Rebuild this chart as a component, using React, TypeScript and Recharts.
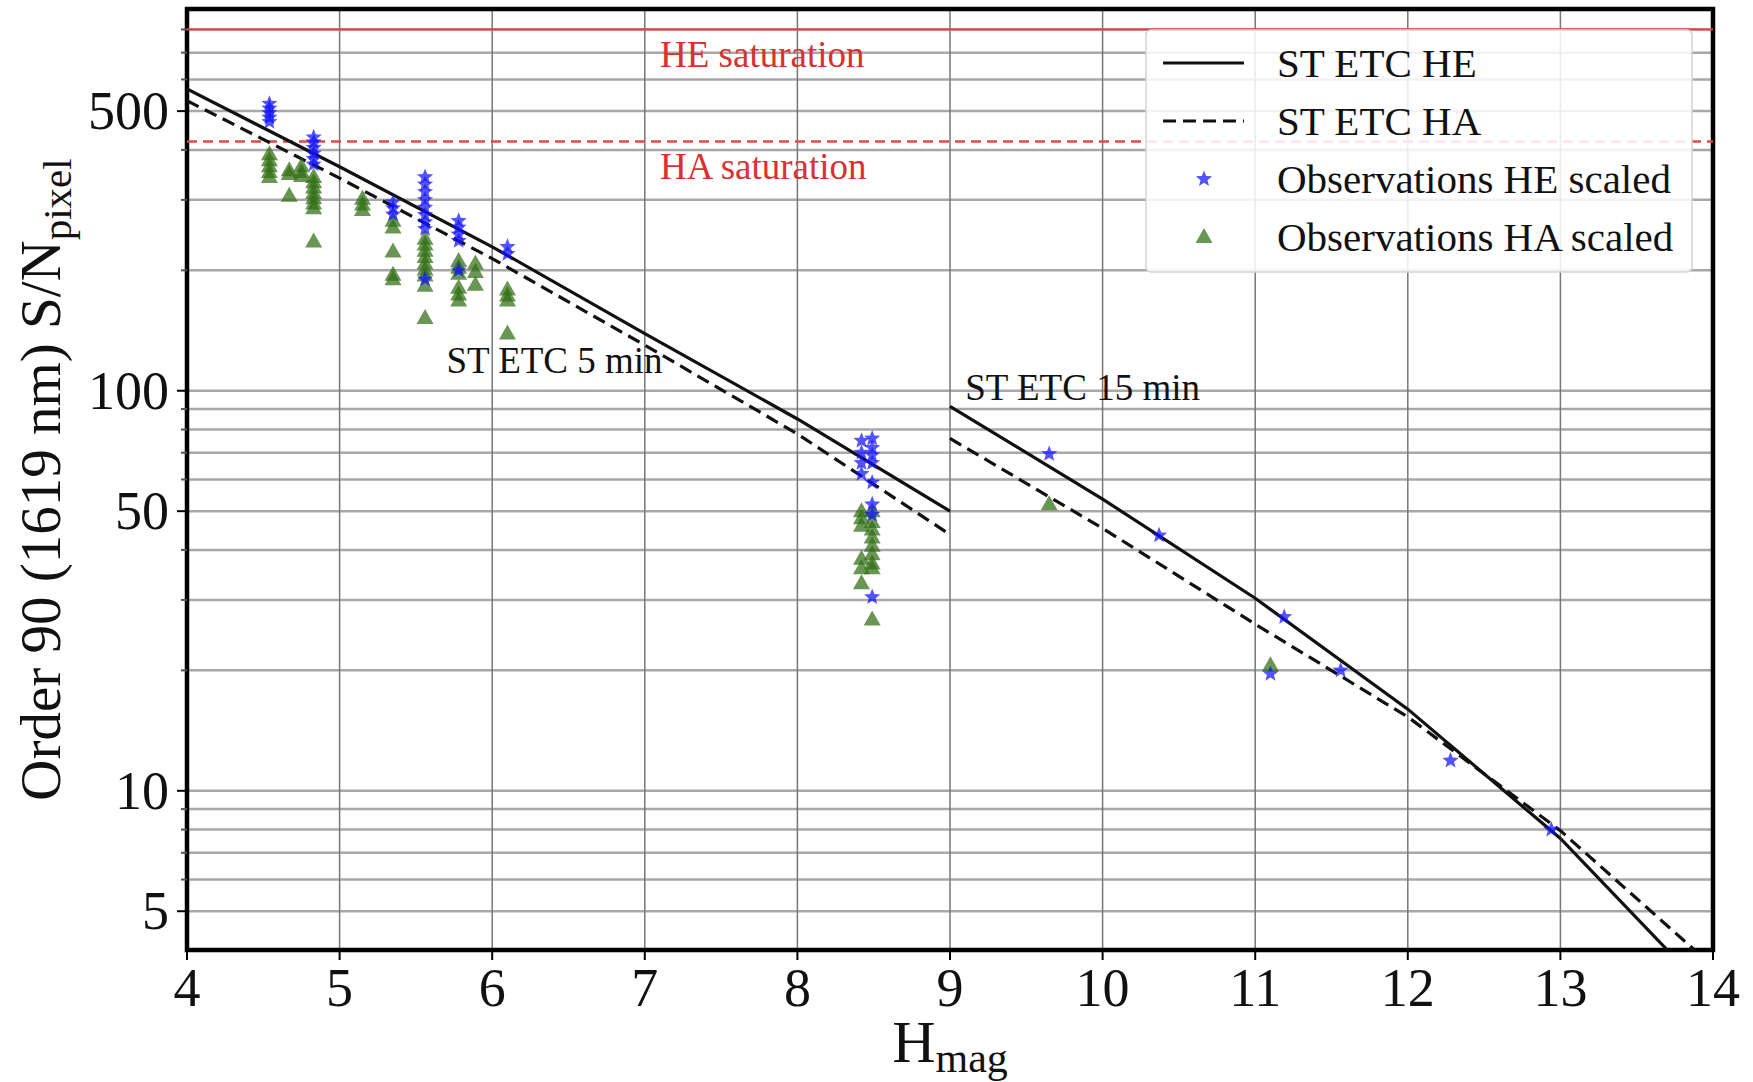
import React from 'react';
import {
  ComposedChart,
  Line,
  Scatter,
  XAxis,
  YAxis,
  CartesianGrid,
  ReferenceLine,
  ReferenceArea,
  ReferenceDot,
  Label,
} from 'recharts';

const FONT = '"Liberation Serif", "Times New Roman", serif';

// ETC model curves, S/N per pixel at given H magnitude
const etc5Mag = [4, 5, 6, 7, 8, 9];
const etc5He = [568, 363, 229, 139, 85, 50];
const etc5Ha = [531, 340, 214, 130, 78, 43.7];
const etc15Mag = [9, 10, 11, 12, 13, 14];
const etc15He = [91.4, 53.6, 30.3, 16.0, 7.6, 3.04];
const etc15Ha = [76, 45.3, 26.1, 15.3, 7.95, 3.64];

const heSaturation = 800;
const haSaturation = 420;

// observations [Hmag, S/N]
const heObs: [number, number][] = [
  [4.54, 522], [4.54, 508], [4.54, 495], [4.54, 482], [4.54, 470],
  [4.83, 430], [4.83, 418], [4.83, 405], [4.83, 392], [4.83, 380], [4.83, 368],
  [5.35, 296], [5.35, 286], [5.35, 276],
  [5.56, 342], [5.56, 328], [5.56, 314], [5.56, 300], [5.56, 287], [5.56, 275], [5.56, 264], [5.56, 254], [5.56, 190],
  [5.78, 266], [5.78, 256], [5.78, 246], [5.78, 237], [5.78, 200],
  [6.1, 229], [6.1, 220],
  [8.42, 75], [8.42, 70], [8.42, 66], [8.42, 62],
  [8.49, 76], [8.49, 72], [8.49, 69], [8.49, 66], [8.49, 59], [8.49, 52], [8.49, 49], [8.49, 30.5],
  [9.65, 69.5], [10.37, 43.5], [11.1, 19.6], [11.19, 27.2], [11.56, 20.0], [12.28, 11.9], [12.94, 8.0],
];

const haObs: [number, number][] = [
  [4.54, 390], [4.54, 377], [4.54, 364], [4.54, 352], [4.54, 342],
  [4.67, 356], [4.67, 348], [4.67, 307],
  [4.75, 364], [4.75, 352], [4.75, 344],
  [4.83, 342], [4.83, 332], [4.83, 322], [4.83, 312], [4.83, 303], [4.83, 294], [4.83, 286], [4.83, 236],
  [5.15, 302], [5.15, 292], [5.15, 283],
  [5.35, 266], [5.35, 256], [5.35, 223], [5.35, 195], [5.35, 190],
  [5.56, 240], [5.56, 232], [5.56, 224], [5.56, 216], [5.56, 208], [5.56, 201], [5.56, 194], [5.56, 183], [5.56, 152],
  [5.78, 211], [5.78, 203], [5.78, 196], [5.78, 181], [5.78, 174], [5.78, 168],
  [5.89, 208], [5.89, 198], [5.89, 184],
  [6.1, 179], [6.1, 173], [6.1, 168], [6.1, 139],
  [8.42, 50], [8.42, 48], [8.42, 46], [8.42, 38], [8.42, 36], [8.42, 33],
  [8.49, 50], [8.49, 47], [8.49, 45], [8.49, 43], [8.49, 41], [8.49, 39], [8.49, 37], [8.49, 36], [8.49, 26.8],
  [9.65, 52], [11.1, 20.6],
];

const xTicks = [4, 5, 6, 7, 8, 9, 10, 11, 12, 13, 14];
const yTicks = [5, 6, 7, 8, 9, 10, 20, 30, 40, 50, 60, 70, 80, 90, 100, 200, 300, 400, 500, 600, 700, 800];
const yLabels = [5, 10, 50, 100, 500];

const toCurve = (mags: number[], snr: number[]) => mags.map((h, i) => ({ h, snr: snr[i] }));
const toPoints = (obs: [number, number][]) => obs.map(([h, snr]) => ({ h, snr }));

const STAR_BLUE = '#1010ff';
const TRI_GREEN = '#2f6e12';

function starPath(cx: number, cy: number, ro: number, ri: number) {
  const pts: string[] = [];
  for (let i = 0; i < 10; i++) {
    const r = i % 2 === 0 ? ro : ri;
    const a = -Math.PI / 2 + (i * Math.PI) / 5;
    pts.push(`${cx + r * Math.cos(a)},${cy + r * Math.sin(a)}`);
  }
  return pts.join(' ');
}

const StarShape = (props: any) => {
  const { cx, cy } = props;
  if (cx == null || cy == null) return null;
  return <polygon points={starPath(cx, cy, 8.5, 3.7)} fill={STAR_BLUE} fillOpacity={0.72} />;
};

const TriShape = (props: any) => {
  const { cx, cy } = props;
  if (cx == null || cy == null) return null;
  return (
    <polygon
      points={`${cx},${cy - 9} ${cx - 8.5},${cy + 6} ${cx + 8.5},${cy + 6}`}
      fill={TRI_GREEN}
      fillOpacity={0.72}
    />
  );
};

const XTick = ({ x, y, payload }: any) => (
  <g>
    <line x1={x} x2={x} y1={y - 10} y2={y} stroke="#000" strokeWidth={2} />
    <text x={x} y={y + 46} textAnchor="middle" fontSize={54} fontFamily={FONT} fill="#111">
      {payload.value}
    </text>
  </g>
);

const YTick = ({ x, y, payload }: any) => {
  const major = yLabels.includes(payload.value);
  return (
    <g>
      <line x1={major ? x : x + 4} x2={x + 10} y1={y} y2={y} stroke={major ? '#000' : '#555'} strokeWidth={2} />
      {major && (
        <text x={x - 8} y={y + 18} textAnchor="end" fontSize={54} fontFamily={FONT} fill="#111">
          {payload.value}
        </text>
      )}
    </g>
  );
};

const XTitle = ({ viewBox }: any) => (
  <text x={viewBox.x + viewBox.width / 2} y={1062} textAnchor="middle" fontFamily={FONT} fill="#111">
    <tspan fontSize={60}>H</tspan>
    <tspan fontSize={42} dy={10}>mag</tspan>
  </text>
);

const YTitle = ({ viewBox }: any) => {
  const cy = viewBox.y + viewBox.height / 2;
  return (
    <text
      x={60}
      y={cy}
      transform={`rotate(-90, 60, ${cy})`}
      textAnchor="middle"
      fontFamily={FONT}
      fill="#111"
    >
      <tspan fontSize={57}>Order 90 (1619 nm) S/N</tspan>
      <tspan fontSize={41} dy={11}>pixel</tspan>
    </text>
  );
};

const annot = (text: string, color: string) => (props: any) => {
  const { viewBox } = props;
  return (
    <text x={viewBox.x} y={viewBox.y} fill={color} fontSize={37} fontFamily={FONT}>
      {text}
    </text>
  );
};

function LegendBox() {
  const rows = [
    { label: 'ST ETC HE', kind: 'solid' },
    { label: 'ST ETC HA', kind: 'dash' },
    { label: 'Observations HE scaled', kind: 'star' },
    { label: 'Observations HA scaled', kind: 'tri' },
  ];
  return (
    <svg
      width={548}
      height={244}
      style={{ position: 'absolute', left: 1145, top: 29 }}
    >
      <rect x={1} y={1} width={546} height={242} rx={5} fill="#fff" fillOpacity={0.85} stroke="#d4d4d4" strokeWidth={1.5} />
      {rows.map((r, i) => {
        const cy = 34 + i * 58;
        return (
          <g key={r.label}>
            {r.kind === 'solid' && <line x1={18} x2={99} y1={cy} y2={cy} stroke="#111" strokeWidth={3.2} />}
            {r.kind === 'dash' && (
              <line x1={18} x2={99} y1={cy} y2={cy} stroke="#111" strokeWidth={3.2} strokeDasharray="13 7" />
            )}
            {r.kind === 'star' && <StarShape cx={59} cy={cy} />}
            {r.kind === 'tri' && <TriShape cx={59} cy={cy} />}
            <text x={132} y={cy + 14} fontSize={41} fontFamily={FONT} fill="#111">
              {r.label}
            </text>
          </g>
        );
      })}
    </svg>
  );
}

export default function App() {
  return (
    <div style={{ position: 'absolute', left: 0, top: 0, width: 1753, height: 1082, background: '#fff' }}>
      <ComposedChart width={1753} height={1082} margin={{ top: 9, right: 40, bottom: 0, left: 0 }}>
        <CartesianGrid horizontal vertical={false} stroke="#a8a8a8" strokeWidth={2.5} />
        <CartesianGrid horizontal={false} vertical stroke="#777" strokeWidth={1.5} />
        <XAxis
          type="number"
          dataKey="h"
          domain={[4, 14]}
          ticks={xTicks}
          interval={0}
          height={132}
          allowDataOverflow
          axisLine={false}
          tickLine={false}
          tickSize={10}
          tickMargin={0}
          tick={<XTick />}
        >
          <Label content={XTitle} />
        </XAxis>
        <YAxis
          type="number"
          dataKey="snr"
          scale="log"
          domain={[4, 900]}
          ticks={yTicks}
          interval={0}
          width={187}
          allowDataOverflow
          axisLine={false}
          tickLine={false}
          tickSize={10}
          tickMargin={0}
          tick={<YTick />}
        >
          <Label content={YTitle} />
        </YAxis>

        <ReferenceLine y={heSaturation} stroke="#e04848" strokeWidth={2.2} />
        <ReferenceLine y={haSaturation} stroke="#e04848" strokeWidth={2.5} strokeDasharray="10 6" />
        <ReferenceDot x={7.1} y={644} r={0} fill="none" stroke="none" label={annot('HE saturation', '#d93030')} />
        <ReferenceDot x={7.1} y={339} r={0} fill="none" stroke="none" label={annot('HA saturation', '#d93030')} />
        <ReferenceDot x={5.7} y={110.6} r={0} fill="none" stroke="none" label={annot('ST ETC 5 min', '#111')} />
        <ReferenceDot x={9.1} y={95} r={0} fill="none" stroke="none" label={annot('ST ETC 15 min', '#111')} />

        <Line data={toCurve(etc5Mag, etc5He)} dataKey="snr" stroke="#111" strokeWidth={3.2} dot={false} activeDot={false} isAnimationActive={false} />
        <Line data={toCurve(etc5Mag, etc5Ha)} dataKey="snr" stroke="#111" strokeWidth={3.2} strokeDasharray="13 7" dot={false} activeDot={false} isAnimationActive={false} />
        <Line data={toCurve(etc15Mag, etc15He)} dataKey="snr" stroke="#111" strokeWidth={3.2} dot={false} activeDot={false} isAnimationActive={false} />
        <Line data={toCurve(etc15Mag, etc15Ha)} dataKey="snr" stroke="#111" strokeWidth={3.2} strokeDasharray="13 7" dot={false} activeDot={false} isAnimationActive={false} />

        <Scatter data={toPoints(haObs)} dataKey="snr" shape={TriShape} isAnimationActive={false} />
        <Scatter data={toPoints(heObs)} dataKey="snr" shape={StarShape} isAnimationActive={false} />

        <ReferenceArea x1={4} x2={14} y1={4} y2={900} fill="none" stroke="#000" strokeWidth={4.5} ifOverflow="visible" />
      </ComposedChart>
      <LegendBox />
    </div>
  );
}
